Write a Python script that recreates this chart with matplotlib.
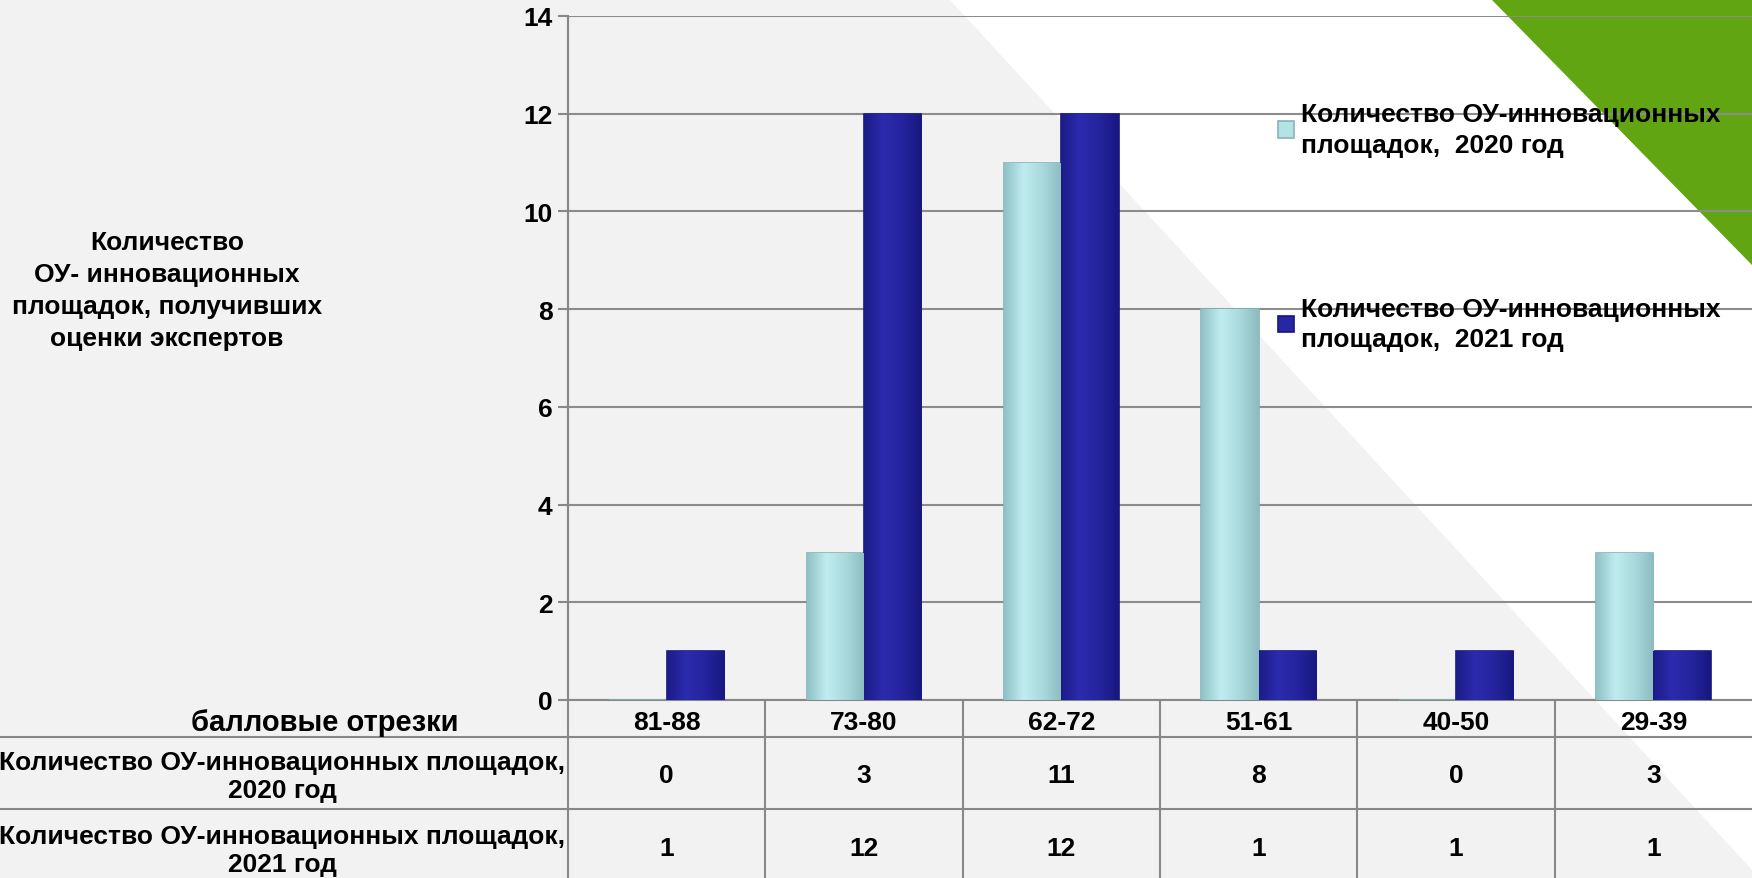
import matplotlib.pyplot as plt
import numpy as np
from matplotlib.patches import Polygon
from matplotlib.colors import LinearSegmentedColormap

plt.rcParams['font.family'] = ['Liberation Sans', 'DejaVu Sans']
plt.rcParams['font.weight'] = 'bold'

categories = ["81-88", "73-80", "62-72", "51-61", "40-50", "29-39"]
count_2020 = [0, 3, 11, 8, 0, 3]
count_2021 = [1, 12, 12, 1, 1, 1]
label_2020 = "Количество ОУ-инновационных\nплощадок,  2020 год"
label_2021 = "Количество ОУ-инновационных\nплощадок,  2021 год"
row_2020 = "Количество ОУ-инновационных площадок,\n2020 год"
row_2021 = "Количество ОУ-инновационных площадок,\n2021 год"
y_title = "Количество\nОУ- инновационных\nплощадок, получивших\nоценки экспертов"
header = "балловые отрезки"

W, H = 1752, 879
fig = plt.figure(figsize=(W / 100, H / 100), dpi=100)

# background in pixel coordinates
bg = fig.add_axes([0, 0, 1, 1], zorder=-5)
bg.set_xlim(0, W)
bg.set_ylim(H, 0)
bg.axis("off")
bg.add_patch(Polygon([(0, 0), (W, 0), (W, H), (0, H)], color="#f2f2f2"))
bg.add_patch(Polygon([(950, 0), (W, 0), (W, 870)], color="white"))
bg.add_patch(Polygon([(1492, 0), (W, 0), (W, 265)], color="#62a512"))

x0, y_top, y_base = 568, 17, 701
ax = fig.add_axes([x0 / W, (H - y_base) / H, (W - x0) / W, (y_base - y_top) / H])
ax.patch.set_alpha(0)
x = np.arange(len(categories))
bw = 0.29
light = LinearSegmentedColormap.from_list("l", ["#8fc2c6", "#c0ecef", "#a9dadd", "#8cbcc0"])
dark = LinearSegmentedColormap.from_list("d", ["#1c1c88", "#2b2bae", "#24249e", "#181880"])
grad = np.linspace(0, 1, 64).reshape(1, -1)


def shaded_bars(xs, vals, cmap, edge, label):
    bars = ax.bar(xs, vals, bw, color=cmap(0.5), edgecolor=edge, linewidth=1.2,
                  label=label, zorder=3)
    for b in bars:
        if b.get_height() == 0:
            continue
        im = ax.imshow(grad, cmap=cmap, aspect="auto", zorder=3.5,
                       extent=[b.get_x(), b.get_x() + b.get_width(), 0, b.get_height()])
        im.set_clip_path(b)
    return bars


shaded_bars(x - bw / 2, count_2020, light, "#86b3b7", label_2020)
shaded_bars(x + bw / 2, count_2021, dark, "#17177c", label_2021)
ax.set_xlim(-0.5, len(categories) - 0.5)
ax.set_ylim(0, 14)
ax.set_yticks(range(0, 15, 2))
ax.tick_params(axis="y", labelsize=19, length=7, width=1.5, color="#888888", pad=4)
ax.tick_params(axis="x", bottom=False, labelbottom=False)
ax.grid(axis="y", color="#8c8c8c", linewidth=1.5, zorder=0)
for s in ["top", "right"]:
    ax.spines[s].set_visible(False)
ax.spines["left"].set_color("#888888")
ax.spines["left"].set_linewidth(1.5)
ax.spines["bottom"].set_color("#888888")
ax.spines["bottom"].set_linewidth(1.5)

leg = ax.legend(loc="upper left", bbox_to_anchor=(0.58, 0.909), frameon=False,
                fontsize=19, labelspacing=5.3, handlelength=0.6, handleheight=0.6,
                handletextpad=0.25)
for t in leg.get_texts():
    t.set_linespacing(1.35)

# table below the chart, pixel rows measured from the baseline
tab = fig.add_axes([x0 / W, 0, (W - x0) / W, (H - y_base) / H], sharex=ax)
tab.set_ylim(H - y_base, 0)
tab.axis("off")
rows = [0, 37, 109, 178]
for r in rows[1:3]:
    bg.plot([0, W], [y_base + r, y_base + r], color="#888888", lw=1.5)
bg.plot([x0, x0], [y_top, H], color="#888888", lw=1.5)
for i in range(1, len(categories)):
    tab.plot([i - 0.5, i - 0.5], [0, 178], color="#888888", lw=1.5, clip_on=False)
for i, c in enumerate(categories):
    tab.text(i, 22, c, ha="center", va="center", fontsize=19)
    tab.text(i, 75, str(count_2020[i]), ha="center", va="center", fontsize=19)
    tab.text(i, 148, str(count_2021[i]), ha="center", va="center", fontsize=19)

bg.text(325, 723, header, ha="center", va="center", fontsize=21)
bg.text(282, 777, row_2020, ha="center", va="center", fontsize=19, linespacing=1.25)
bg.text(282, 851, row_2021, ha="center", va="center", fontsize=19, linespacing=1.25)
bg.text(167, 291, y_title, ha="center", va="center", fontsize=19, linespacing=1.42)

fig.savefig("out.png", dpi=100)
